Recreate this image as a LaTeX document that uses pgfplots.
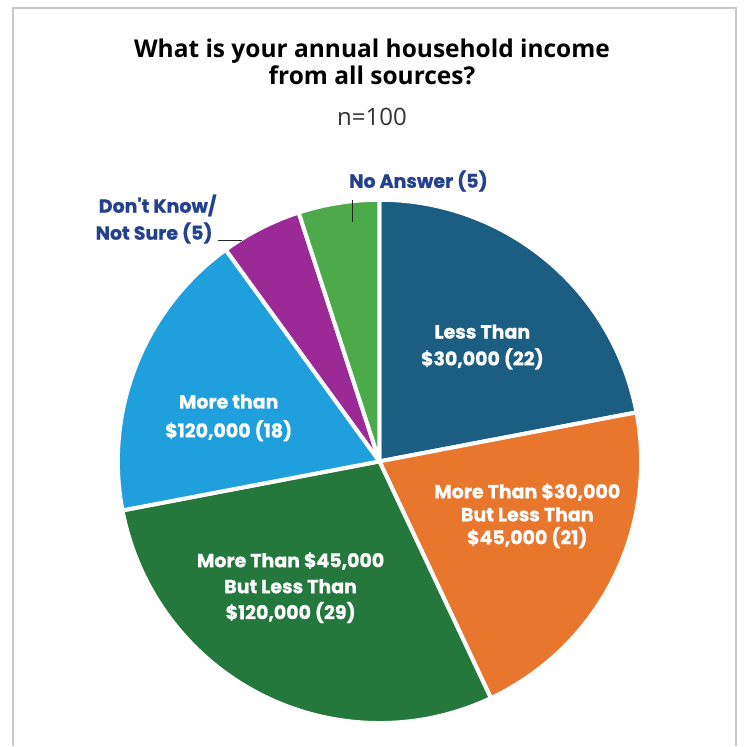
\documentclass[border=0pt]{standalone}
\usepackage{pgfplots}
\pgfplotsset{compat=1.18}
\usepackage{fontspec}
\setmainfont{Open Sans}
\newfontfamily\lab[FakeBold=0.8]{Poppins}
\definecolor{cA}{HTML}{1C5D82}
\definecolor{cB}{HTML}{E8762D}
\definecolor{cC}{HTML}{24783C}
\definecolor{cD}{HTML}{1FA0DC}
\definecolor{cE}{HTML}{9B2A96}
\definecolor{cF}{HTML}{4CAA4A}
\definecolor{navy}{HTML}{23418C}
\definecolor{frame}{HTML}{C9C9C9}
\newcommand\slice[3]{%
  \pgfmathsetmacro\angA{90-3.6*(#1+#2)}%
  \pgfmathsetmacro\angB{90-3.6*#1}%
  \edef\doslice{\noexpand\addplot[fill=#3, draw=white, line width=4pt, line join=round, domain=\angA:\angB, samples=90] ({cos(x)},{sin(x)}) -- (axis cs:0,0) -- cycle;}%
  \doslice
}
\begin{document}
\begin{tikzpicture}
\fill[white] (0pt,0pt) rectangle (745pt,-747pt);
\draw[color=frame, line width=2pt] (13pt,-747pt) -- (13pt,-8pt) -- (737pt,-8pt) -- (737pt,-747pt);
\begin{axis}[at={(380pt,-462pt)}, anchor=center, x=262pt, y=262pt,
  xmin=-1, xmax=1, ymin=-1, ymax=1, hide axis, clip=false]
% start (cumulative %), value (%), colour
\slice{0}{22}{cA}
\slice{22}{21}{cB}
\slice{43}{29}{cC}
\slice{72}{18}{cD}
\slice{90}{5}{cE}
\slice{95}{5}{cF}
\end{axis}
\begin{scope}[x=1pt,y=1pt]
% title
\node[anchor=base, font=\fontsize{24.5}{28}\selectfont\bfseries] at (372.5,-58) {What is your annual household income};
\node[anchor=base, font=\fontsize{24.5}{28}\selectfont\bfseries] at (372.5,-85) {from all sources?};
\node[anchor=base, font=\fontsize{24}{28}\selectfont, text=black!80] at (372.5,-126) {n=100};
% slice labels
\begin{scope}[every node/.style={anchor=base, text=white, font=\fontsize{19}{22}\lab\bfseries, inner sep=0pt}]
\node at (483,-339) {Less Than};
\node at (483,-366) {\$30,000 (22)};
\node at (528,-499) {More Than \$30,000};
\node at (528,-522) {But Less Than};
\node at (528,-545) {\$45,000 (21)};
\node at (291,-568) {More Than \$45,000};
\node at (291,-594) {But Less Than};
\node at (291,-620) {\$120,000 (29)};
\node at (229,-409) {More than};
\node at (229,-438) {\$120,000 (18)};
\end{scope}
\begin{scope}[every node/.style={text=navy, font=\fontsize{19}{22}\lab\bfseries, inner sep=0pt}]
\node[anchor=base] at (419,-188) {No Answer (5)};
\node[anchor=base east] at (217,-213) {Don't Know/};
\node[anchor=base east] at (213,-240) {Not Sure (5)};
\end{scope}
\draw[line width=1.6pt, black!85] (353,-200) -- (353,-222);
\draw[line width=1.6pt, black!85] (218,-241) -- (242,-241);
\end{scope}
\end{tikzpicture}
\end{document}
